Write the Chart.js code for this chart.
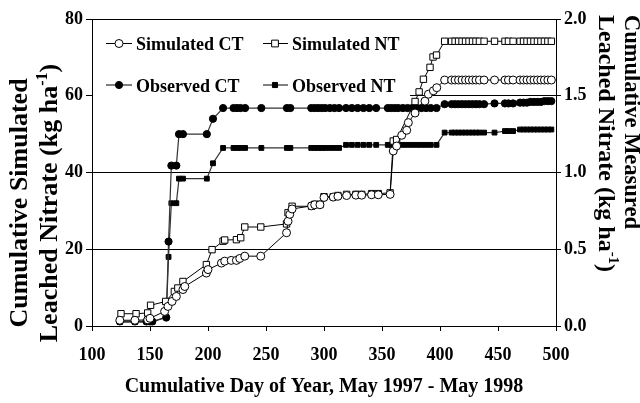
<!DOCTYPE html>
<html><head><meta charset="utf-8">
<script src="https://cdn.jsdelivr.net/npm/chart.js@4"></script>
<style>html,body{margin:0;padding:0;background:#fff}</style>
</head><body>
<canvas id="c" width="640" height="403"></canvas>
<script>
// ---- Data ----
const simCTDays = [124,137,148,150,162.6,165.5,169,172.7,178.4,180,198.6,200,211.6,214.4,220,224.5,227.4,231.7,245.5,267.7,269,270.5,272.5,289.3,292,296.5,300,308,312,319.5,327.5,332.5,341,346.8,357,359.7,362.6,367,371.3,372.7,378.5,387,390,394.3,397.2,404,410,413,416,419,422,425,428,431,434,438,447,456,459,463,469,472,475,478,481,484,487,490,493,496];
const simCTVals = [1.5,1.5,1.6,2.0,3.8,5.1,6.4,7.7,9.5,10.3,13.8,14.7,16.4,16.9,17.1,17.1,17.6,18.2,18.2,24.3,27.3,29.1,30.5,31.3,31.6,31.6,33.5,33.6,33.8,34.0,34.1,34.1,34.2,34.2,34.3,45.6,46.9,49.7,51.0,53.0,55.5,58.6,60.4,61.3,62.1,64.1,64.1,64.1,64.1,64.1,64.1,64.1,64.1,64.1,64.1,64.1,64.1,64.1,64.1,64.1,64.1,64.1,64.1,64.1,64.1,64.1,64.1,64.1,64.1,64.1];

const simNTDays = [125,138,148,150.5,163.5,171,174,178.4,198.6,203.5,213,214.4,224.5,228.2,231.7,245.5,267.7,269,272.5,289.3,292,296.5,300,308,312,319.5,327.5,332.5,341,346.8,357,359.7,362.6,378.5,382,385.7,391.4,394,397,404,410,413,416,419,422,425,428,431,434,438,447,456,459,463,469,472,475,478,481,484,487,490,493,496];
const simNTVals = [3.2,3.2,3.4,5.4,6.4,9.0,9.9,11.6,16.0,19.9,22.1,22.4,22.5,23.0,25.8,25.8,26.6,29.5,31.2,31.2,31.7,31.7,33.7,33.7,34.0,34.3,34.3,34.3,34.5,34.5,34.7,48.2,48.6,58.5,61.0,64.3,67.4,70.1,70.6,74.2,74.2,74.2,74.2,74.2,74.2,74.2,74.2,74.2,74.2,74.2,74.2,74.2,74.2,74.2,74.2,74.2,74.2,74.2,74.2,74.2,74.2,74.2,74.2,74.2];

const obsDays = [124,137,147,150,152,164,166,168.4,172.7,175,178.4,199,204.3,213,222,225,228,232,246,268,271,289,292,295,298,301,305,309,313,319,324,329,334,339,345,355,358,361,364,368,372,376,380,384,388,392,397,404,410,413,416,419,422,425,428,431,434,438,447,456,459,463,469,472,475,478,481,484,487,490,493,496];
const obsCTVals = [0.03,0.03,0.03,0.03,0.03,0.055,0.55,1.045,1.045,1.25,1.25,1.25,1.35,1.42,1.42,1.42,1.42,1.42,1.42,1.42,1.42,1.42,1.42,1.42,1.42,1.42,1.42,1.42,1.42,1.42,1.42,1.42,1.42,1.42,1.42,1.42,1.42,1.42,1.42,1.42,1.42,1.42,1.42,1.42,1.42,1.42,1.42,1.445,1.445,1.445,1.445,1.445,1.445,1.445,1.445,1.445,1.445,1.445,1.45,1.45,1.45,1.45,1.455,1.455,1.455,1.46,1.46,1.46,1.46,1.465,1.465,1.465];
const obsNTVals = [0.025,0.025,0.025,0.025,0.025,0.06,0.45,0.80,0.80,0.96,0.96,0.96,1.06,1.16,1.16,1.16,1.16,1.16,1.16,1.16,1.16,1.16,1.16,1.16,1.16,1.16,1.16,1.16,1.16,1.18,1.18,1.18,1.18,1.18,1.18,1.18,1.18,1.18,1.18,1.18,1.18,1.18,1.18,1.18,1.18,1.18,1.18,1.26,1.26,1.26,1.26,1.26,1.26,1.26,1.26,1.26,1.26,1.26,1.26,1.27,1.27,1.27,1.28,1.28,1.28,1.28,1.28,1.28,1.28,1.28,1.28,1.28];

const leftTicks = [0,20,40,60,80];
const rightTicks = ['0.0','0.5','1.0','1.5','2.0'];
const xTicks = [100,150,200,250,300,350,400,450,500];
const seriesLabels = ['Simulated CT','Simulated NT','Observed CT','Observed NT'];

const FONT = "'Liberation Serif','Times New Roman',serif";
const pts = (d, v) => d.map((x, i) => ({x: x, y: v[i]}));

const datasets = [
  {label: seriesLabels[0], data: pts(simCTDays, simCTVals), yAxisID: 'y',
   borderColor: '#000', borderWidth: 1, pointStyle: 'circle', pointRadius: 4,
   pointBackgroundColor: '#fff', pointBorderColor: '#000', pointBorderWidth: 1},
  {label: seriesLabels[1], data: pts(simNTDays, simNTVals), yAxisID: 'y',
   borderColor: '#000', borderWidth: 1, pointStyle: 'rect', pointRadius: 4.5,
   pointBackgroundColor: '#fff', pointBorderColor: '#000', pointBorderWidth: 1},
  {label: seriesLabels[2], data: pts(obsDays, obsCTVals), yAxisID: 'y2',
   borderColor: '#333', borderWidth: 1.2, pointStyle: 'circle', pointRadius: 3.6,
   pointBackgroundColor: '#000', pointBorderColor: '#000', pointBorderWidth: 1},
  {label: seriesLabels[3], data: pts(obsDays, obsNTVals), yAxisID: 'y2',
   borderColor: '#333', borderWidth: 1.2, pointStyle: 'rect', pointRadius: 3.4,
   pointBackgroundColor: '#000', pointBorderColor: '#000', pointBorderWidth: 1}
];

function drawRich(ctx, parts, x, y, size, align) {
  let total = 0;
  const ws = parts.map(p => {
    ctx.font = 'bold ' + (p.sup ? size * 0.62 : size) + 'px ' + FONT;
    const w = ctx.measureText(p.t).width; total += w; return w;
  });
  let cx = align === 'left' ? x : x - total / 2;
  parts.forEach((p, i) => {
    ctx.font = 'bold ' + (p.sup ? size * 0.62 : size) + 'px ' + FONT;
    ctx.fillText(p.t, cx, p.sup ? y - size * 0.4 : y);
    cx += ws[i];
  });
}

const decor = {
  id: 'decor',
  beforeDatasetsDraw(chart) {
    const ctx = chart.ctx, a = chart.chartArea;
    ctx.save();
    ctx.fillStyle = '#fff';
    ctx.fillRect(a.left + 1, a.top + 1, 410 - a.left - 1, 100 - a.top - 1);
    ctx.restore();
  },
  afterDraw(chart) {
    const ctx = chart.ctx;
    ctx.save();
    ctx.fillStyle = '#000';
    ctx.textAlign = 'left';
    ctx.textBaseline = 'alphabetic';
    // legend
    const items = [
      {i: 0, x1: 106, x2: 132, mx: 119, tx: 136, ly: 43.5, by: 50},
      {i: 1, x1: 263, x2: 288, mx: 275, tx: 292, ly: 43.5, by: 50},
      {i: 2, x1: 106, x2: 132, mx: 119, tx: 136, ly: 85, by: 91.5},
      {i: 3, x1: 263, x2: 288, mx: 275, tx: 292, ly: 85, by: 91.5}
    ];
    items.forEach(it => {
      const ds = chart.data.datasets[it.i];
      ctx.strokeStyle = '#000'; ctx.lineWidth = 1;
      ctx.beginPath(); ctx.moveTo(it.x1, it.ly); ctx.lineTo(it.x2, it.ly); ctx.stroke();
      ctx.fillStyle = ds.pointBackgroundColor;
      const r = ds.pointRadius;
      ctx.beginPath();
      if (ds.pointStyle === 'circle') ctx.arc(it.mx, it.ly, r, 0, Math.PI * 2);
      else ctx.rect(it.mx - r * 0.75, it.ly - r * 0.75, r * 1.5, r * 1.5);
      ctx.fill(); ctx.stroke();
      ctx.fillStyle = '#000';
      ctx.font = 'bold 18px ' + FONT;
      ctx.fillText(ds.label, it.tx, it.by);
    });
    // x title
    drawRich(ctx, [{t: 'Cumulative Day of Year, May 1997 - May 1998'}], 324, 392, 20, 'center');
    // left title
    ctx.save();
    ctx.translate(0, 203);
    ctx.rotate(-Math.PI / 2);
    drawRich(ctx, [{t: 'Cumulative Simulated'}], 0, 27, 26, 'center');
    drawRich(ctx, [{t: 'Leached Nitrate (kg ha'}, {t: '-1', sup: true}, {t: ')'}], 0, 57, 26, 'center');
    ctx.restore();
    // right title
    ctx.save();
    ctx.translate(625, 15);
    ctx.rotate(Math.PI / 2);
    drawRich(ctx, [{t: 'Cumulative Measured'}], 0, 0, 22.5, 'left');
    ctx.restore();
    ctx.save();
    ctx.translate(599, 15);
    ctx.rotate(Math.PI / 2);
    drawRich(ctx, [{t: 'Leached Nitrate (kg ha'}, {t: '-1', sup: true}, {t: ')'}], 0, 0, 24, 'left');
    ctx.restore();
    ctx.restore();
  }
};

new Chart(document.getElementById('c'), {
  type: 'line',
  data: {datasets: datasets},
  plugins: [decor],
  options: {
    responsive: false,
    animation: false,
    devicePixelRatio: 1,
    layout: {padding: {top: 19, left: 0, right: 0, bottom: 0}},
    plugins: {legend: {display: false}, tooltip: {enabled: false}},
    elements: {line: {tension: 0}},
    scales: {
      x: {
        type: 'linear', min: 100, max: 500,
        afterFit: s => { s.height = 77; },
        afterBuildTicks: s => { s.ticks = xTicks.map(v => ({value: v})); },
        ticks: {color: '#000', font: {family: FONT, size: 18, weight: 'bold'}, padding: 14, maxRotation: 0},
        grid: {drawOnChartArea: false, drawTicks: true, tickLength: 5, tickColor: '#000', tickWidth: 1},
        border: {display: true, color: '#000', width: 1}
      },
      y: {
        position: 'left', min: 0, max: 80,
        afterFit: s => { s.width = 92; },
        afterBuildTicks: s => { s.ticks = leftTicks.map(v => ({value: v})); },
        ticks: {color: '#000', font: {family: FONT, size: 18, weight: 'bold'}, padding: 3},
        grid: {color: '#000', lineWidth: 1, drawTicks: true, tickLength: 6, tickColor: '#000'},
        border: {display: true, color: '#000', width: 1}
      },
      y2: {
        position: 'right', min: 0, max: 2,
        afterFit: s => { s.width = 84; },
        afterBuildTicks: s => { s.ticks = rightTicks.map(v => ({value: parseFloat(v)})); },
        ticks: {color: '#000', font: {family: FONT, size: 18, weight: 'bold'}, padding: 3,
                callback: (v, i) => rightTicks[i]},
        grid: {drawOnChartArea: false, drawTicks: true, tickLength: 5, tickColor: '#000'},
        border: {display: true, color: '#000', width: 1}
      }
    }
  }
});
</script>
</body></html>
